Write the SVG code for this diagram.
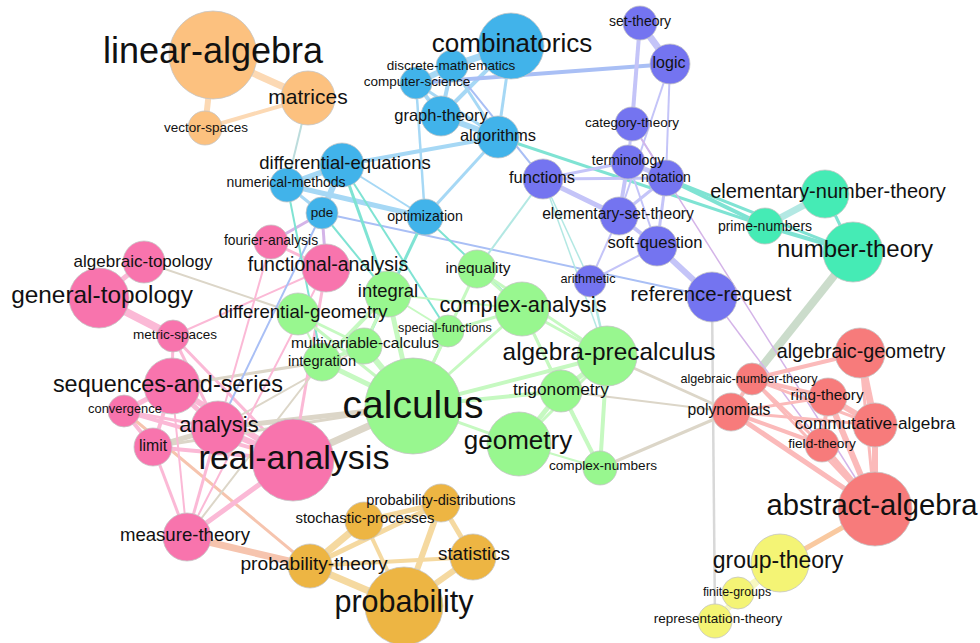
<svg xmlns="http://www.w3.org/2000/svg" width="980" height="643" viewBox="0 0 980 643">
<style>
.e line{fill:none}
.or{stroke:#fcd9b4}.bl{stroke:#a6d8f5}.blp{stroke:#a9bff5}.pu{stroke:#c4c4f8}.te{stroke:#7fe3d3}.tel{stroke:#b3e8e3}
.pk{stroke:#fbb9d6}.gr{stroke:#c6f9c1}.re{stroke:#fbbaba}.ye{stroke:#f8f8c0}.go{stroke:#f5d9a0}.tan{stroke:#dcd6c8}
.sal{stroke:#f6c4ae}.gray{stroke:#d8d8d8}.lav{stroke:#d4b4e8}.nt{stroke:#cbdccb}.ga{stroke:#f9c9a0}.mt{stroke:#bcdcdc}
.n circle{stroke:#c4c4c4;stroke-width:0.8}
.c-or{fill:#fcc17f}.c-bl{fill:#41b3ea}.c-pu{fill:#7474f0}.c-te{fill:#45ebb5}.c-pk{fill:#f874ad}.c-gr{fill:#98f78f}
.c-re{fill:#f77b7b}.c-ye{fill:#f4f475}.c-go{fill:#edb543}
.lbl text{font-family:"Liberation Sans",Arial,sans-serif;fill:#111;text-anchor:middle}
</style>
<rect width="980" height="643" fill="#ffffff"/>
<g id="connectors" class="e">
<line class="or" stroke-width="7" x1="213" y1="55" x2="308" y2="98"/>
<line class="or" stroke-width="6" x1="213" y1="55" x2="205" y2="128"/>
<line class="or" stroke-width="4" x1="308" y1="98" x2="205" y2="128"/>
<line class="mt" stroke-width="2" x1="308" y1="98" x2="287" y2="185"/>
<line class="bl" stroke-width="7" x1="511" y1="46" x2="452" y2="66"/>
<line class="bl" stroke-width="4" x1="511" y1="46" x2="441" y2="116"/>
<line class="bl" stroke-width="3" x1="511" y1="46" x2="498" y2="137"/>
<line class="bl" stroke-width="6" x1="452" y1="66" x2="416" y2="83"/>
<line class="bl" stroke-width="4" x1="452" y1="66" x2="441" y2="116"/>
<line class="bl" stroke-width="4" x1="416" y1="83" x2="441" y2="116"/>
<line class="bl" stroke-width="3" x1="452" y1="66" x2="498" y2="137"/>
<line class="bl" stroke-width="3" x1="416" y1="83" x2="498" y2="137"/>
<line class="bl" stroke-width="6" x1="441" y1="116" x2="498" y2="137"/>
<line class="blp" stroke-width="4" x1="416" y1="83" x2="670" y2="64"/>
<line class="bl" stroke-width="2.5" x1="416" y1="83" x2="425" y2="217"/>
<line class="bl" stroke-width="4" x1="498" y1="137" x2="342" y2="165"/>
<line class="bl" stroke-width="3" x1="498" y1="137" x2="425" y2="217"/>
<line class="te" stroke-width="3" x1="498" y1="137" x2="765" y2="226"/>
<line class="bl" stroke-width="6" x1="342" y1="165" x2="287" y2="185"/>
<line class="bl" stroke-width="6" x1="342" y1="165" x2="322" y2="213"/>
<line class="bl" stroke-width="3" x1="287" y1="185" x2="322" y2="213"/>
<line class="bl" stroke-width="5" x1="287" y1="185" x2="425" y2="217"/>
<line class="bl" stroke-width="2" x1="342" y1="165" x2="425" y2="217"/>
<line class="blp" stroke-width="2" x1="322" y1="213" x2="712" y2="297"/>
<line class="blp" stroke-width="2" x1="452" y1="66" x2="543" y2="179"/>
<line class="te" stroke-width="4" x1="666" y1="178" x2="765" y2="226"/>
<line class="te" stroke-width="3" x1="666" y1="178" x2="853" y2="252"/>
<line class="tel" stroke-width="7" x1="765" y1="226" x2="825" y2="194"/>
<line class="te" stroke-width="4" x1="765" y1="226" x2="853" y2="252"/>
<line class="te" stroke-width="3" x1="825" y1="194" x2="853" y2="252"/>
<line class="nt" stroke-width="8" x1="853" y1="252" x2="752" y2="379"/>
<line class="pu" stroke-width="7" x1="640" y1="23" x2="670" y2="64"/>
<line class="pu" stroke-width="4" x1="640" y1="23" x2="632" y2="124"/>
<line class="pu" stroke-width="2" x1="670" y1="64" x2="666" y2="178"/>
<line class="pu" stroke-width="2" x1="670" y1="64" x2="619" y2="216"/>
<line class="pu" stroke-width="3" x1="632" y1="124" x2="628" y2="162"/>
<line class="pu" stroke-width="2" x1="632" y1="124" x2="666" y2="178"/>
<line class="pu" stroke-width="5" x1="628" y1="162" x2="666" y2="178"/>
<line class="pu" stroke-width="4" x1="628" y1="162" x2="619" y2="216"/>
<line class="pu" stroke-width="3" x1="543" y1="179" x2="628" y2="162"/>
<line class="pu" stroke-width="3" x1="543" y1="179" x2="666" y2="178"/>
<line class="pu" stroke-width="5" x1="543" y1="179" x2="619" y2="216"/>
<line class="pu" stroke-width="3" x1="619" y1="216" x2="666" y2="178"/>
<line class="pu" stroke-width="4" x1="619" y1="216" x2="657" y2="246"/>
<line class="pu" stroke-width="3" x1="666" y1="178" x2="657" y2="246"/>
<line class="pu" stroke-width="2" x1="628" y1="162" x2="657" y2="246"/>
<line class="pu" stroke-width="6" x1="657" y1="246" x2="712" y2="297"/>
<line class="pu" stroke-width="2" x1="590" y1="281" x2="619" y2="216"/>
<line class="pu" stroke-width="2" x1="590" y1="281" x2="657" y2="246"/>
<line class="tel" stroke-width="1.5" x1="543" y1="179" x2="590" y2="281"/>
<line class="tel" stroke-width="2" x1="543" y1="179" x2="477" y2="269"/>
<line class="tel" stroke-width="1.5" x1="543" y1="179" x2="607" y2="356"/>
<line class="lav" stroke-width="1.5" x1="632" y1="124" x2="875" y2="509"/>
<line class="gray" stroke-width="2.5" x1="712" y1="297" x2="715" y2="621"/>
<line class="lav" stroke-width="1.5" x1="712" y1="297" x2="822" y2="445"/>
<line class="tel" stroke-width="2.5" x1="590" y1="281" x2="607" y2="356"/>
<line class="pk" stroke-width="5" x1="99" y1="298" x2="144" y2="262"/>
<line class="pk" stroke-width="8" x1="99" y1="298" x2="173" y2="336"/>
<line class="pk" stroke-width="3" x1="173" y1="336" x2="172" y2="386"/>
<line class="pk" stroke-width="3" x1="173" y1="336" x2="218" y2="428"/>
<line class="pk" stroke-width="3" x1="173" y1="336" x2="293" y2="460"/>
<line class="pk" stroke-width="2" x1="173" y1="336" x2="326" y2="268"/>
<line class="tan" stroke-width="2" x1="144" y1="262" x2="298" y2="314"/>
<line class="pk" stroke-width="5" x1="172" y1="386" x2="124" y2="411"/>
<line class="pk" stroke-width="5" x1="172" y1="386" x2="218" y2="428"/>
<line class="pk" stroke-width="6" x1="172" y1="386" x2="293" y2="460"/>
<line class="pk" stroke-width="4" x1="172" y1="386" x2="153" y2="447"/>
<line class="tan" stroke-width="3" x1="172" y1="386" x2="322" y2="362"/>
<line class="pk" stroke-width="4" x1="124" y1="411" x2="153" y2="447"/>
<line class="pk" stroke-width="4" x1="124" y1="411" x2="293" y2="460"/>
<line class="pk" stroke-width="3" x1="124" y1="411" x2="218" y2="428"/>
<line class="sal" stroke-width="3" x1="124" y1="411" x2="310" y2="566"/>
<line class="tan" stroke-width="5" x1="153" y1="447" x2="218" y2="428"/>
<line class="pk" stroke-width="4" x1="153" y1="447" x2="293" y2="460"/>
<line class="pk" stroke-width="3" x1="153" y1="447" x2="187" y2="537"/>
<line class="tan" stroke-width="3" x1="153" y1="447" x2="413" y2="406"/>
<line class="pk" stroke-width="6" x1="218" y1="428" x2="293" y2="460"/>
<line class="pk" stroke-width="3" x1="218" y1="428" x2="187" y2="537"/>
<line class="tan" stroke-width="5" x1="218" y1="428" x2="413" y2="406"/>
<line class="tan" stroke-width="2" x1="218" y1="428" x2="364" y2="346"/>
<line class="pk" stroke-width="5" x1="293" y1="460" x2="187" y2="537"/>
<line class="tan" stroke-width="7" x1="293" y1="460" x2="413" y2="406"/>
<line class="pk" stroke-width="3" x1="293" y1="460" x2="326" y2="268"/>
<line class="sal" stroke-width="7" x1="187" y1="537" x2="310" y2="566"/>
<line class="tan" stroke-width="2" x1="187" y1="537" x2="322" y2="362"/>
<line class="pk" stroke-width="2" x1="187" y1="537" x2="326" y2="268"/>
<line class="pk" stroke-width="2" x1="187" y1="537" x2="172" y2="386"/>
<line class="pk" stroke-width="3" x1="271" y1="242" x2="326" y2="268"/>
<line class="pk" stroke-width="2" x1="271" y1="242" x2="218" y2="428"/>
<line class="lav" stroke-width="3" x1="271" y1="242" x2="322" y2="213"/>
<line class="lav" stroke-width="3" x1="326" y1="268" x2="322" y2="213"/>
<line class="blp" stroke-width="2" x1="322" y1="213" x2="218" y2="428"/>
<line class="te" stroke-width="2" x1="322" y1="213" x2="388" y2="294"/>
<line class="te" stroke-width="2" x1="287" y1="185" x2="322" y2="362"/>
<line class="te" stroke-width="2" x1="342" y1="165" x2="448" y2="331"/>
<line class="te" stroke-width="3" x1="342" y1="165" x2="388" y2="294"/>
<line class="te" stroke-width="2" x1="425" y1="217" x2="522" y2="309"/>
<line class="te" stroke-width="3" x1="425" y1="217" x2="364" y2="346"/>
<line class="gr" stroke-width="3" x1="298" y1="314" x2="364" y2="346"/>
<line class="gr" stroke-width="3" x1="298" y1="314" x2="413" y2="406"/>
<line class="gr" stroke-width="2" x1="298" y1="314" x2="322" y2="362"/>
<line class="gr" stroke-width="5" x1="388" y1="294" x2="413" y2="406"/>
<line class="gr" stroke-width="4" x1="388" y1="294" x2="322" y2="362"/>
<line class="gr" stroke-width="3" x1="388" y1="294" x2="364" y2="346"/>
<line class="gr" stroke-width="2" x1="388" y1="294" x2="522" y2="309"/>
<line class="gr" stroke-width="2" x1="388" y1="294" x2="448" y2="331"/>
<line class="gr" stroke-width="5" x1="322" y1="362" x2="413" y2="406"/>
<line class="gr" stroke-width="4" x1="322" y1="362" x2="364" y2="346"/>
<line class="gr" stroke-width="6" x1="364" y1="346" x2="413" y2="406"/>
<line class="gr" stroke-width="3" x1="413" y1="406" x2="522" y2="309"/>
<line class="gr" stroke-width="4" x1="413" y1="406" x2="607" y2="356"/>
<line class="gr" stroke-width="4" x1="413" y1="406" x2="561" y2="391"/>
<line class="gr" stroke-width="3" x1="413" y1="406" x2="519" y2="444"/>
<line class="gr" stroke-width="3" x1="413" y1="406" x2="448" y2="331"/>
<line class="gr" stroke-width="3" x1="413" y1="406" x2="477" y2="269"/>
<line class="gr" stroke-width="3" x1="448" y1="331" x2="522" y2="309"/>
<line class="gr" stroke-width="3" x1="477" y1="269" x2="522" y2="309"/>
<line class="gr" stroke-width="3" x1="477" y1="269" x2="607" y2="356"/>
<line class="gr" stroke-width="3" x1="522" y1="309" x2="607" y2="356"/>
<line class="gr" stroke-width="3" x1="522" y1="309" x2="561" y2="391"/>
<line class="gr" stroke-width="2" x1="522" y1="309" x2="600" y2="468"/>
<line class="gr" stroke-width="5" x1="607" y1="356" x2="561" y2="391"/>
<line class="gr" stroke-width="3" x1="607" y1="356" x2="519" y2="444"/>
<line class="gr" stroke-width="4" x1="607" y1="356" x2="600" y2="468"/>
<line class="gr" stroke-width="5" x1="561" y1="391" x2="519" y2="444"/>
<line class="gr" stroke-width="4" x1="561" y1="391" x2="600" y2="468"/>
<line class="gr" stroke-width="2" x1="519" y1="444" x2="600" y2="468"/>
<line class="tan" stroke-width="3" x1="607" y1="356" x2="731" y2="412"/>
<line class="tan" stroke-width="2" x1="561" y1="391" x2="731" y2="412"/>
<line class="tan" stroke-width="3" x1="600" y1="468" x2="731" y2="412"/>
<line class="re" stroke-width="4" x1="752" y1="379" x2="731" y2="412"/>
<line class="re" stroke-width="4" x1="752" y1="379" x2="828" y2="397"/>
<line class="re" stroke-width="4" x1="752" y1="379" x2="860" y2="353"/>
<line class="re" stroke-width="3" x1="752" y1="379" x2="875" y2="425"/>
<line class="re" stroke-width="3" x1="752" y1="379" x2="822" y2="445"/>
<line class="re" stroke-width="3" x1="752" y1="379" x2="875" y2="509"/>
<line class="re" stroke-width="3" x1="731" y1="412" x2="828" y2="397"/>
<line class="re" stroke-width="4" x1="731" y1="412" x2="822" y2="445"/>
<line class="re" stroke-width="5" x1="731" y1="412" x2="875" y2="509"/>
<line class="re" stroke-width="3" x1="731" y1="412" x2="875" y2="425"/>
<line class="re" stroke-width="6" x1="828" y1="397" x2="875" y2="425"/>
<line class="re" stroke-width="6" x1="828" y1="397" x2="875" y2="509"/>
<line class="re" stroke-width="4" x1="828" y1="397" x2="822" y2="445"/>
<line class="re" stroke-width="7" x1="860" y1="353" x2="875" y2="425"/>
<line class="re" stroke-width="6" x1="875" y1="425" x2="875" y2="509"/>
<line class="re" stroke-width="6" x1="822" y1="445" x2="875" y2="509"/>
<line class="re" stroke-width="3" x1="860" y1="353" x2="875" y2="509"/>
<line class="ga" stroke-width="5" x1="875" y1="509" x2="780" y2="563"/>
<line class="ye" stroke-width="5" x1="780" y1="563" x2="738" y2="593"/>
<line class="ye" stroke-width="4" x1="780" y1="563" x2="715" y2="621"/>
<line class="ye" stroke-width="3" x1="738" y1="593" x2="715" y2="621"/>
<line class="go" stroke-width="7" x1="404" y1="606" x2="310" y2="566"/>
<line class="go" stroke-width="6" x1="404" y1="606" x2="473" y2="557"/>
<line class="go" stroke-width="6" x1="404" y1="606" x2="441" y2="503"/>
<line class="go" stroke-width="4" x1="404" y1="606" x2="364" y2="521"/>
<line class="go" stroke-width="7" x1="310" y1="566" x2="364" y2="521"/>
<line class="go" stroke-width="5" x1="310" y1="566" x2="441" y2="503"/>
<line class="go" stroke-width="4" x1="310" y1="566" x2="473" y2="557"/>
<line class="go" stroke-width="5" x1="364" y1="521" x2="441" y2="503"/>
<line class="go" stroke-width="5" x1="473" y1="557" x2="441" y2="503"/>
</g>
<g id="nodes" class="n">
<g id="linear-algebra"><circle class="c-or" cx="213" cy="55" r="44"/></g>
<g id="matrices"><circle class="c-or" cx="308" cy="98" r="27"/></g>
<g id="vector-spaces"><circle class="c-or" cx="205" cy="128" r="17"/></g>
<g id="combinatorics"><circle class="c-bl" cx="511" cy="46" r="33"/></g>
<g id="discrete-mathematics"><circle class="c-bl" cx="452" cy="66" r="16"/></g>
<g id="computer-science"><circle class="c-bl" cx="416" cy="83" r="16"/></g>
<g id="graph-theory"><circle class="c-bl" cx="441" cy="116" r="20"/></g>
<g id="algorithms"><circle class="c-bl" cx="498" cy="137" r="21"/></g>
<g id="differential-equations"><circle class="c-bl" cx="342" cy="165" r="22"/></g>
<g id="numerical-methods"><circle class="c-bl" cx="287" cy="185" r="17"/></g>
<g id="pde"><circle class="c-bl" cx="322" cy="213" r="16"/></g>
<g id="optimization"><circle class="c-bl" cx="425" cy="217" r="18"/></g>
<g id="set-theory"><circle class="c-pu" cx="640" cy="23" r="17"/></g>
<g id="logic"><circle class="c-pu" cx="670" cy="64" r="20"/></g>
<g id="category-theory"><circle class="c-pu" cx="632" cy="124" r="17"/></g>
<g id="terminology"><circle class="c-pu" cx="628" cy="162" r="17"/></g>
<g id="notation"><circle class="c-pu" cx="666" cy="178" r="18"/></g>
<g id="functions"><circle class="c-pu" cx="543" cy="179" r="20"/></g>
<g id="elementary-set-theory"><circle class="c-pu" cx="619" cy="216" r="19"/></g>
<g id="soft-question"><circle class="c-pu" cx="657" cy="246" r="20"/></g>
<g id="arithmetic"><circle class="c-pu" cx="590" cy="281" r="16"/></g>
<g id="reference-request"><circle class="c-pu" cx="712" cy="297" r="25"/></g>
<g id="elementary-number-theory"><circle class="c-te" cx="825" cy="194" r="24"/></g>
<g id="prime-numbers"><circle class="c-te" cx="765" cy="226" r="18"/></g>
<g id="number-theory"><circle class="c-te" cx="853" cy="252" r="30"/></g>
<g id="algebraic-geometry"><circle class="c-re" cx="860" cy="353" r="25"/></g>
<g id="algebraic-number-theory"><circle class="c-re" cx="752" cy="379" r="16"/></g>
<g id="ring-theory"><circle class="c-re" cx="828" cy="397" r="19"/></g>
<g id="polynomials"><circle class="c-re" cx="731" cy="412" r="19"/></g>
<g id="commutative-algebra"><circle class="c-re" cx="875" cy="425" r="22"/></g>
<g id="field-theory"><circle class="c-re" cx="822" cy="445" r="17"/></g>
<g id="abstract-algebra"><circle class="c-re" cx="875" cy="509" r="37"/></g>
<g id="group-theory"><circle class="c-ye" cx="780" cy="563" r="29"/></g>
<g id="finite-groups"><circle class="c-ye" cx="738" cy="593" r="16"/></g>
<g id="representation-theory"><circle class="c-ye" cx="715" cy="621" r="17"/></g>
<g id="calculus"><circle class="c-gr" cx="413" cy="406" r="48"/></g>
<g id="real-analysis"><circle class="c-pk" cx="293" cy="460" r="41"/></g>
<g id="analysis"><circle class="c-pk" cx="218" cy="428" r="27"/></g>
<g id="sequences-and-series"><circle class="c-pk" cx="172" cy="386" r="28"/></g>
<g id="convergence"><circle class="c-pk" cx="124" cy="411" r="16"/></g>
<g id="limit"><circle class="c-pk" cx="153" cy="447" r="19"/></g>
<g id="measure-theory"><circle class="c-pk" cx="187" cy="537" r="24"/></g>
<g id="metric-spaces"><circle class="c-pk" cx="173" cy="336" r="16"/></g>
<g id="general-topology"><circle class="c-pk" cx="99" cy="298" r="30"/></g>
<g id="algebraic-topology"><circle class="c-pk" cx="144" cy="262" r="21"/></g>
<g id="fourier-analysis"><circle class="c-pk" cx="271" cy="242" r="17"/></g>
<g id="functional-analysis"><circle class="c-pk" cx="326" cy="268" r="24"/></g>
<g id="integral"><circle class="c-gr" cx="388" cy="294" r="23"/></g>
<g id="differential-geometry"><circle class="c-gr" cx="298" cy="314" r="21"/></g>
<g id="multivariable-calculus"><circle class="c-gr" cx="364" cy="346" r="18"/></g>
<g id="integration"><circle class="c-gr" cx="322" cy="362" r="19"/></g>
<g id="inequality"><circle class="c-gr" cx="477" cy="269" r="19"/></g>
<g id="special-functions"><circle class="c-gr" cx="448" cy="331" r="16"/></g>
<g id="complex-analysis"><circle class="c-gr" cx="522" cy="309" r="27"/></g>
<g id="algebra-precalculus"><circle class="c-gr" cx="607" cy="356" r="30"/></g>
<g id="trigonometry"><circle class="c-gr" cx="561" cy="391" r="21"/></g>
<g id="geometry"><circle class="c-gr" cx="519" cy="444" r="32"/></g>
<g id="complex-numbers"><circle class="c-gr" cx="600" cy="468" r="17"/></g>
<g id="probability-distributions"><circle class="c-go" cx="441" cy="503" r="19"/></g>
<g id="stochastic-processes"><circle class="c-go" cx="364" cy="521" r="19"/></g>
<g id="statistics"><circle class="c-go" cx="473" cy="557" r="23"/></g>
<g id="probability-theory"><circle class="c-go" cx="310" cy="566" r="22"/></g>
<g id="probability"><circle class="c-go" cx="404" cy="606" r="39"/></g>
</g>
<g id="labels" class="lbl">
<text x="213" y="63" font-size="36">linear-algebra</text>
<text x="308" y="104" font-size="21">matrices</text>
<text x="206" y="132" font-size="13.5">vector-spaces</text>
<text x="512" y="52" font-size="26">combinatorics</text>
<text x="451" y="70" font-size="13.5">discrete-mathematics</text>
<text x="417" y="86" font-size="13.5">computer-science</text>
<text x="441" y="121" font-size="16.5">graph-theory</text>
<text x="498" y="141" font-size="16.5">algorithms</text>
<text x="345" y="169" font-size="18.5">differential-equations</text>
<text x="286" y="187" font-size="14">numerical-methods</text>
<text x="322" y="217" font-size="13.5">pde</text>
<text x="425" y="221" font-size="14.2">optimization</text>
<text x="640" y="26" font-size="14">set-theory</text>
<text x="669" y="68" font-size="16">logic</text>
<text x="632" y="127" font-size="13.5">category-theory</text>
<text x="628" y="165" font-size="14">terminology</text>
<text x="666" y="182" font-size="14">notation</text>
<text x="542" y="183" font-size="16.5">functions</text>
<text x="618" y="219" font-size="15.6">elementary-set-theory</text>
<text x="655" y="248" font-size="16.6">soft-question</text>
<text x="588" y="283" font-size="12.7">arithmetic</text>
<text x="711" y="301" font-size="20.4">reference-request</text>
<text x="828" y="198" font-size="20">elementary-number-theory</text>
<text x="765" y="231" font-size="14">prime-numbers</text>
<text x="855" y="257" font-size="24">number-theory</text>
<text x="861" y="358" font-size="19.7">algebraic-geometry</text>
<text x="749" y="383" font-size="12.6">algebraic-number-theory</text>
<text x="827" y="400" font-size="15.3">ring-theory</text>
<text x="729" y="415" font-size="15.7">polynomials</text>
<text x="875" y="429" font-size="17.2">commutative-algebra</text>
<text x="822" y="448" font-size="13.7">field-theory</text>
<text x="872" y="515" font-size="29.2">abstract-algebra</text>
<text x="778" y="568" font-size="23">group-theory</text>
<text x="737" y="596" font-size="12.4">finite-groups</text>
<text x="718" y="623" font-size="13.5">representation-theory</text>
<text x="413" y="418" font-size="39">calculus</text>
<text x="294" y="469" font-size="34">real-analysis</text>
<text x="219" y="432" font-size="22">analysis</text>
<text x="168" y="392" font-size="23.4">sequences-and-series</text>
<text x="125" y="413" font-size="12.9">convergence</text>
<text x="153" y="451" font-size="15.8">limit</text>
<text x="185" y="541" font-size="18.6">measure-theory</text>
<text x="175" y="339" font-size="13.5">metric-spaces</text>
<text x="102" y="303" font-size="24.4">general-topology</text>
<text x="143" y="267" font-size="17">algebraic-topology</text>
<text x="271" y="245" font-size="13.9">fourier-analysis</text>
<text x="328" y="271" font-size="19.5">functional-analysis</text>
<text x="388" y="297" font-size="18.4">integral</text>
<text x="303" y="318" font-size="18.6">differential-geometry</text>
<text x="365" y="348" font-size="15.5">multivariable-calculus</text>
<text x="322" y="366" font-size="14.6">integration</text>
<text x="478" y="273" font-size="15.4">inequality</text>
<text x="445" y="332" font-size="12.6">special-functions</text>
<text x="523" y="312" font-size="21.8">complex-analysis</text>
<text x="609" y="360" font-size="24.4">algebra-precalculus</text>
<text x="561" y="395" font-size="17.3">trigonometry</text>
<text x="518" y="449" font-size="26">geometry</text>
<text x="603" y="470" font-size="13.6">complex-numbers</text>
<text x="441" y="505" font-size="14.6">probability-distributions</text>
<text x="365" y="523" font-size="14.9">stochastic-processes</text>
<text x="474" y="560" font-size="18.8">statistics</text>
<text x="314" y="570" font-size="19.2">probability-theory</text>
<text x="404" y="612" font-size="30.5">probability</text>
</g>
</svg>
